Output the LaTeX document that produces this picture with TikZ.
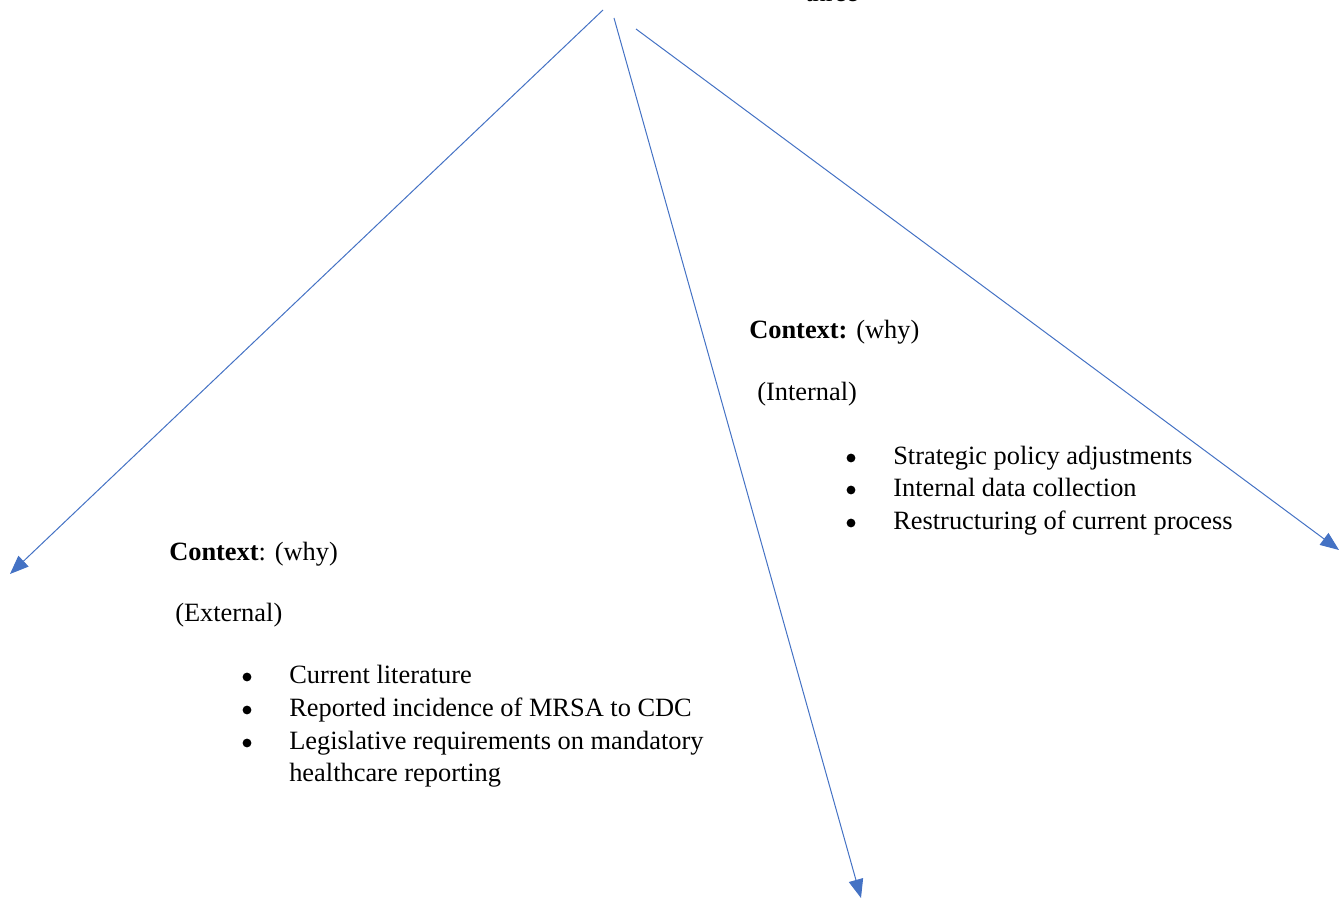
\documentclass[tikz,border=0pt]{standalone}
\usepackage{fontspec}
\setmainfont{Liberation Serif}
\usetikzlibrary{arrows.meta, positioning}

\begin{document}
\begin{tikzpicture}[x=0.75pt, y=-0.75pt]
    % --- Style Definitions ---
    \tikzset{
        body text/.style={
            font=\fontsize{19.8}{24.75}\selectfont,
            anchor=base west,
            inner sep=0pt
        },
        dot mark/.style={
            circle,
            fill=black,
            inner sep=0pt,
            minimum size=6.6pt
        },
        link arrow/.style={
            -{Triangle[length=14pt, width=11pt]},
            draw=linkblue,
            line width=0.75pt
        }
    }
    \definecolor{linkblue}{HTML}{4472C4}

    % canvas
    \useasboundingbox (0,0) rectangle (1342,898);

    % clipped heading at the very top
    \begin{scope}
        \clip (0,0) rectangle (1342,898);
        \node[body text] (top_text) at (805,2) {three};
    \end{scope}

    % ==========================================
    % Arrows from the top
    % ==========================================
    \coordinate (root_left)  at (603,10);
    \coordinate (root_mid)   at (614,18);
    \coordinate (root_right) at (636,29);
    \coordinate (tip_left)   at (10,574);
    \coordinate (tip_mid)    at (861,898);
    \coordinate (tip_right)  at (1339,550);

    \draw[link arrow] (root_left)  -- (tip_left);
    \draw[link arrow] (root_mid)   -- (tip_mid);
    \draw[link arrow] (root_right) -- (tip_right);

    % ==========================================
    % LEFT BLOCK: External context
    % ==========================================
    \node[body text] (ext_title) at (169,560) {\textbf{Context}: (why)};
    \node[body text] (ext_sub)   at (175,621) {(External)};

    \node[dot mark] (ext_dot_1) at (247,677) {};
    \node[body text] (ext_item_1) at (289,683) {Current literature};
    \node[dot mark] (ext_dot_2) at (247,710) {};
    \node[body text] (ext_item_2) at (289,716) {Reported incidence of MRSA to CDC};
    \node[dot mark] (ext_dot_3) at (247,743) {};
    \node[body text] (ext_item_3) at (289,749) {Legislative requirements on mandatory};
    \node[body text] (ext_item_3b) at (289,781) {healthcare reporting};

    % ==========================================
    % RIGHT BLOCK: Internal context
    % ==========================================
    \node[body text] (int_title) at (749,339) {\textbf{Context:} (why)};
    \node[body text] (int_sub)   at (757,401) {(Internal)};

    \node[dot mark] (int_dot_1) at (851,458) {};
    \node[body text] (int_item_1) at (893,464) {Strategic policy adjustments};
    \node[dot mark] (int_dot_2) at (851,490) {};
    \node[body text] (int_item_2) at (893,496) {Internal data collection};
    \node[dot mark] (int_dot_3) at (851,523) {};
    \node[body text] (int_item_3) at (893,529) {Restructuring of current process};

\end{tikzpicture}
\end{document}
